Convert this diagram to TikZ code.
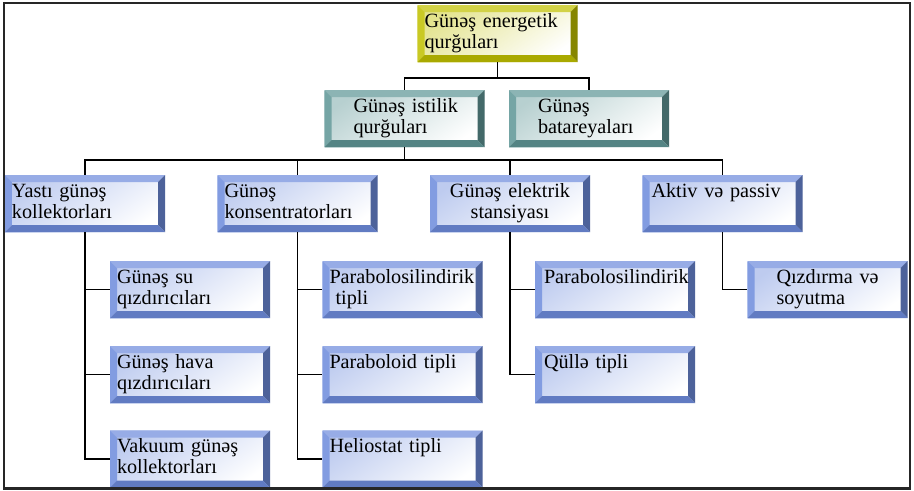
\documentclass[tikz,border=0pt]{standalone}
\usepackage{fontspec}
\setmainfont{Liberation Serif}
\usepackage{xcolor}
\usepackage{tikz}
\usetikzlibrary{positioning, calc}
\definecolor{sunyellow}{RGB}{192,192,0}
\definecolor{heatteal}{RGB}{95,150,150}
\definecolor{itemblue}{RGB}{110,140,220}
\newcommand{\panelfont}{\fontsize{11.5}{12}\selectfont}
\newcommand{\bevelw}{0.14cm}
\newcommand{\lpad}{\hspace*{0.44cm}}
\tikzset{
    panel/.style={
        rectangle,
        minimum width=3.2cm,
        minimum height=1.14cm,
        text width=2.92cm,
        inner xsep=0.14cm,
        inner ysep=0pt,
        text height=0.44cm,
        text depth=0.70cm,
        align=left,
        font=\panelfont,
        top color=#1!45!white,
        bottom color=white,
        shading angle=35,
        path picture={
            \fill[#1!72!white] (path picture bounding box.north west) -- (path picture bounding box.north east)
                -- ([xshift=-\bevelw,yshift=-\bevelw]path picture bounding box.north east)
                -- ([xshift=\bevelw,yshift=-\bevelw]path picture bounding box.north west) -- cycle;
            \fill[#1!86!white] (path picture bounding box.north west) -- (path picture bounding box.south west)
                -- ([xshift=\bevelw,yshift=\bevelw]path picture bounding box.south west)
                -- ([xshift=\bevelw,yshift=-\bevelw]path picture bounding box.north west) -- cycle;
            \fill[#1!70!black] (path picture bounding box.north east) -- (path picture bounding box.south east)
                -- ([xshift=-\bevelw,yshift=\bevelw]path picture bounding box.south east)
                -- ([xshift=-\bevelw,yshift=-\bevelw]path picture bounding box.north east) -- cycle;
            \fill[#1!88!black] (path picture bounding box.south west) -- (path picture bounding box.south east)
                -- ([xshift=-\bevelw,yshift=\bevelw]path picture bounding box.south east)
                -- ([xshift=\bevelw,yshift=\bevelw]path picture bounding box.south west) -- cycle;
        },
    },
    rootbox/.style={panel=sunyellow},
    groupbox/.style={panel=heatteal},
    itembox/.style={panel=itemblue},
    link/.style={line width=1.1pt, black},
    frame/.style={line width=1.3pt, black!85},
}

\begin{document}
\begin{tikzpicture}[node distance=1.7cm, on grid]
    \useasboundingbox (0,0) rectangle (18.28,-9.80);

    \node[rootbox] (qurgu) at (9.95,-0.67) {Günəş energetik\\qurğuları};

    \node[groupbox, below left=1.70cm and 1.86cm of qurgu] (istilik) {\lpad Günəş istilik\\\lpad qurğuları};
    \node[groupbox, right=3.69cm of istilik] (batareya) {\lpad Günəş\\\lpad batareyaları};

    \node[itembox, below left=1.70cm and 2.14cm of istilik] (konsentr) {Günəş\\konsentratorları};
    \node[itembox, left=4.25cm of konsentr] (yasti) {Yastı günəş\\kollektorları};
    \node[itembox, right=4.25cm of konsentr, align=center] (elektrik) {Günəş elektrik\\stansiyası};
    \node[itembox, right=4.25cm of elektrik] (aktiv) {\hspace*{0.04cm}Aktiv və passiv};

    % flat collectors
    \node[itembox, below right=1.72cm and 2.10cm of yasti] (su) {Günəş su\\qızdırıcıları};
    \node[itembox, below=1.70cm of su] (hava) {Günəş hava\\qızdırıcıları};
    \node[itembox, below=1.69cm of hava] (vakuum) {Vakuum günəş\\kollektorları};

    % concentrators
    \node[itembox, below right=1.72cm and 2.10cm of konsentr] (parsil) {Parabolosilindirik\\\hspace*{0.3em}tipli};
    \node[itembox, below=1.70cm of parsil] (paraboloid) {Paraboloid tipli};
    \node[itembox, below=1.69cm of paraboloid] (heliostat) {Heliostat tipli};

    % power stations
    \node[itembox, below right=1.72cm and 2.10cm of elektrik] (stparsil) {\hspace*{0.04cm}Parabolosilindirik};
    \node[itembox, below=1.70cm of stparsil] (qulle) {\hspace*{0.04cm}Qüllə tipli};

    \node[itembox, below right=1.72cm and 2.10cm of aktiv] (qizdirma) {\lpad Qızdırma və\\\lpad soyutma};

    \draw[link] (qurgu.south) -- ++(0,-0.31) coordinate (fork1);
    \draw[link] (istilik.north) |- (fork1) -| (batareya.north);

    \draw[link] (istilik.south) -- ++(0,-0.26) coordinate (fork2);
    \draw[link] (yasti.north) |- (fork2) -| (aktiv.north);
    \draw[link] (konsentr.north) -- (konsentr.north |- fork2);
    \draw[link] (elektrik.north) -- (elektrik.north |- fork2);

    \foreach \p/\c in {yasti/su, yasti/hava, yasti/vakuum,
                       konsentr/parsil, konsentr/paraboloid, konsentr/heliostat,
                       elektrik/stparsil, elektrik/qulle, aktiv/qizdirma}
        \draw[link] (\p.south) |- (\c.west);

    \draw[frame] (0.08,-0.06) rectangle (18.20,-9.77);
\end{tikzpicture}
\end{document}
